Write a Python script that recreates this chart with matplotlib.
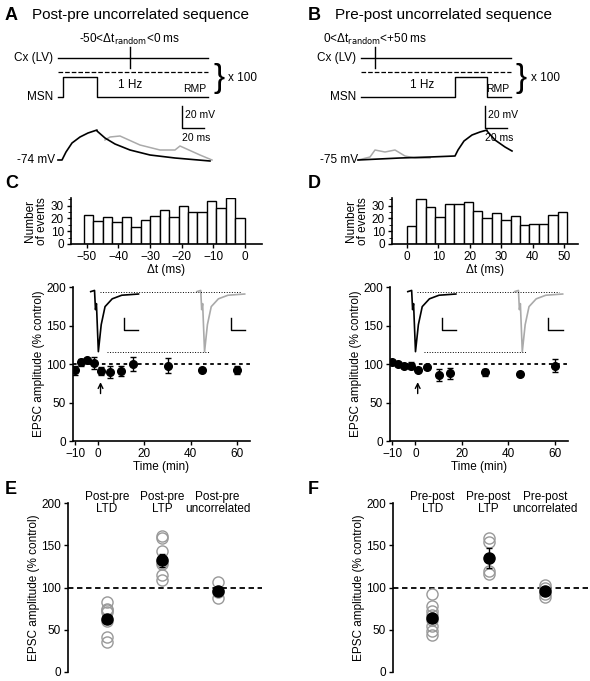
import numpy as np
import matplotlib.pyplot as plt

W, H = 590, 681

# ---------------- data ----------------
hist_c_left = np.arange(-51, 0, 3)
hist_c_counts = [23, 18, 21, 17, 21, 13, 19, 22, 27, 21, 30, 25, 25, 34, 28, 36, 20]
hist_d_left = np.arange(0, 51, 3)
hist_d_counts = [14, 35, 29, 21, 31, 31, 33, 26, 20, 24, 19, 22, 15, 16, 16, 23, 25]

time_c = [-10, -7.5, -5, -2, 1, 5, 10, 15, 30, 45, 60]
epsc_c = [92, 102, 105, 101, 91, 90, 91, 100, 98, 92, 92]
err_c = [6, 5, 2, 8, 5, 8, 7, 9, 10, 2, 5]
time_d = [-10, -7.5, -5, -2, 1, 5, 10, 15, 30, 45, 60]
epsc_d = [103, 100, 97, 98, 92, 96, 86, 88, 89, 87, 98]
err_d = [2, 1, 2, 4, 3, 2, 8, 7, 4, 3, 9]

cats_e = ["Post-pre\nLTD", "Post-pre\nLTP", "Post-pre\nuncorrelated"]
cells_e = [[83, 75, 73, 71, 60, 42, 36], [161, 158, 143, 130, 128, 115, 109], [106, 95, 88]]
mean_e = [63, 132, 96]
sem_e = [5, 8, 4]
cats_f = ["Pre-post\nLTD", "Pre-post\nLTP", "Pre-post\nuncorrelated"]
cells_f = [[92, 78, 72, 68, 62, 55, 48, 44], [159, 154, 120, 116], [103, 99, 92, 89]]
mean_f = [64, 135, 96]
sem_f = [5, 12, 3]

# voltage traces for A/B (pixel points, rough)
trace_a_x = [58, 62, 66, 72, 80, 88, 97, 97, 105, 115, 130, 150, 175, 210]
trace_a_y = [160, 160, 152, 143, 137, 133, 130, 131, 138, 144, 150, 155, 158, 161]
gray_a_x = [105, 110, 120, 140, 160, 175, 180, 200, 212]
gray_a_y = [140, 137, 136, 145, 150, 150, 146, 155, 160]
trace_b_x = [358, 400, 430, 455, 458, 464, 472, 480, 487, 487, 495, 505, 512]
trace_b_y = [160, 158, 157, 156, 150, 141, 135, 132, 130, 131, 140, 147, 151]
gray_b_x = [358, 370, 375, 385, 395, 405, 415, 430]
gray_b_y = [160, 157, 150, 152, 150, 156, 158, 158]
# inset EPSC trace (relative units: x 0..1, y 0 baseline, -1 peak)
epsc_x = [0, 0.08, 0.1, 0.12, 0.16, 0.22, 0.3, 0.45, 0.65, 1.0]
epsc_y = [0, 0.02, -0.3, -0.2, -1.0, -0.55, -0.25, -0.12, -0.06, -0.04]

plt.rcParams['font.family'] = ['Liberation Sans', 'DejaVu Sans']
plt.rcParams['font.size'] = 8.5

fig = plt.figure(figsize=(W / 100, H / 100), dpi=100)


def pos(l, t, r, b):
    return [l / W, 1 - b / H, (r - l) / W, (b - t) / H]


def style(ax):
    ax.spines['top'].set_visible(False)
    ax.spines['right'].set_visible(False)
    ax.tick_params(length=3, width=1, pad=2)
    for s in ('left', 'bottom'):
        ax.spines[s].set_linewidth(1.2)


# ---------------- overlay for schematics ----------------
ov = fig.add_axes([0, 0, 1, 1])
ov.set_xlim(0, W)
ov.set_ylim(H, 0)
ov.axis('off')

for dx, letter, title, lab, tick_x, pulse, hz_x, mv, tx, ty, gx, gy in [
        (0, 'A', 'Post-pre uncorrelated sequence', '-50<Δt$_{\\rm random}$<0 ms', 130, (63, 97), 130, '-74 mV',
         trace_a_x, trace_a_y, gray_a_x, gray_a_y),
        (303, 'B', 'Pre-post uncorrelated sequence', '0<Δt$_{\\rm random}$<+50 ms', 375, (455, 487), 422, '-75 mV',
         trace_b_x, trace_b_y, gray_b_x, gray_b_y)]:
    ov.text(5 + dx, 15, letter, fontsize=13, fontweight='bold', va='center')
    ov.text(32 + dx, 15, title, fontsize=11, va='center')
    x0, x1 = 58 + dx, 208 + dx
    ov.plot([x0, x1], [58, 58], 'k', lw=1)
    ov.plot([tick_x, tick_x], [47, 68], 'k', lw=1)
    ov.text(tick_x, 43, lab, ha='center', fontsize=8.5)
    ov.text(x0 - 5, 58, 'Cx (LV)', ha='right', va='center', fontsize=8.5)
    ov.plot([x0, x1], [72, 72], 'k--', lw=0.9)
    p0, p1 = pulse
    ov.plot([x0, p0, p0, p1, p1, x1], [97, 97, 77, 77, 97, 97], 'k', lw=1)
    ov.text(x0 - 5, 97, 'MSN', ha='right', va='center', fontsize=8.5)
    ov.text(hz_x, 88, '1 Hz', ha='center', fontsize=8.5)
    ov.text(206 + dx, 92, 'RMP', ha='right', fontsize=7.5)
    ov.text(213 + dx, 78, '}', fontsize=24, va='center', ha='left', fontweight='light')
    ov.text(228 + dx, 78, 'x 100', fontsize=8.5, va='center')
    sb = 182 + dx
    ov.plot([sb, sb, sb + 22], [106, 128, 128], 'k', lw=1)
    ov.text(sb + 3, 115, '20 mV', fontsize=7.5, va='center')
    ov.text(sb, 138, '20 ms', fontsize=7.5, va='center')
    ov.plot(gx, gy, color='#aaaaaa', lw=1.1, zorder=1)
    ov.plot(tx, ty, 'k', lw=1.2, zorder=2)
    ov.text(x0 - 3, 160, mv, ha='right', va='center', fontsize=8.5)

# ---------------- histograms ----------------
for rect, lefts, counts, ticks, xlim, letter, lx in [
        (pos(71, 198, 262, 244), hist_c_left, hist_c_counts, range(-50, 1, 10), (-55, 5.4), 'C', 5),
        (pos(392, 198, 578, 244), hist_d_left, hist_d_counts, range(0, 51, 10), (-4.8, 54.5), 'D', 308)]:
    ax = fig.add_axes(rect)
    ax.bar(lefts, counts, width=3, align='edge', color='white', edgecolor='k', lw=1)
    ax.set_xlim(*xlim)
    ax.set_ylim(0, 36)
    ax.set_yticks([0, 10, 20, 30])
    ax.set_yticks([5, 15, 25, 35], minor=True)
    ax.set_xticks(list(ticks))
    ax.set_xlabel('Δt (ms)', labelpad=1)
    ax.set_ylabel('Number\nof events', labelpad=2, linespacing=0.95)
    style(ax)
    fig.text(lx / W, 1 - 183 / H, letter, fontsize=13, fontweight='bold', va='center')

# ---------------- time courses ----------------
for rect, t, v, e in [(pos(73, 287, 250, 441), time_c, epsc_c, err_c),
                      (pos(390, 287, 568, 441), time_d, epsc_d, err_d)]:
    ax = fig.add_axes(rect)
    ax.errorbar(t, v, yerr=e, fmt='o', color='k', ms=5.5, capsize=2.5, elinewidth=1)
    ax.axhline(100, color='k', ls=(0, (2, 2)), lw=1.3, zorder=0)
    ax.set_xlim(-10.9, 65.6)
    ax.set_ylim(0, 200)
    ax.set_yticks([0, 50, 100, 150, 200])
    ax.set_xticks([-10, 0, 20, 40, 60])
    ax.set_xlabel('Time (min)', labelpad=1)
    ax.set_ylabel('EPSC amplitude (% control)', labelpad=1)
    ax.annotate('', xy=(1, 80), xytext=(1, 58), arrowprops=dict(arrowstyle='->', color='k', lw=1))
    style(ax)
    # inset traces in axes fraction
    tr = ax.transAxes
    ex = np.array(epsc_x)
    ey = np.array(epsc_y)
    ax.plot(0.1 + ex * 0.27, 0.97 + ey * 0.39, color='k', lw=1.2, transform=tr)
    ax.plot(0.7 + ex * 0.27, 0.97 + ey * 0.39, color='#aaaaaa', lw=1.2, transform=tr)
    ax.plot([0.15, 0.95], [0.97, 0.97], 'k:', lw=0.7, transform=tr)
    ax.plot([0.19, 0.77], [0.58, 0.58], 'k:', lw=0.7, transform=tr)
    for sx in (0.29, 0.89):
        ax.plot([sx, sx, sx + 0.08], [0.8, 0.72, 0.72], 'k', lw=1, transform=tr)

# ---------------- summary scatter ----------------
for rect, cats, cells, means, sems, letter, lx in [
        (pos(68, 503, 262, 672), cats_e, cells_e, mean_e, sem_e, 'E', 5),
        (pos(393, 503, 590, 672), cats_f, cells_f, mean_f, sem_f, 'F', 308)]:
    ax = fig.add_axes(rect)
    xs = [1, 2, 3]
    for x, c in zip(xs, cells):
        ax.plot([x] * len(c), c, 'o', mfc='none', mec='#999999', ms=8, mew=1)
    ax.errorbar(xs, means, yerr=sems, fmt='o', color='k', ms=8, capsize=2.5, elinewidth=1, zorder=3)
    ax.axhline(100, color='k', ls=(0, (3, 2)), lw=1.3, zorder=0)
    for x, c in zip(xs, cats):
        ax.text(x, 200, c, ha='center', va='center', fontsize=8.5, linespacing=1.0)
    ax.set_xlim(0.3, 3.8)
    ax.set_ylim(0, 200)
    ax.set_yticks([0, 50, 100, 150, 200])
    ax.set_xticks([])
    ax.spines['bottom'].set_visible(False)
    ax.set_ylabel('EPSC amplitude (% control)', labelpad=1)
    style(ax)
    fig.text(lx / W, 1 - 490 / H, letter, fontsize=13, fontweight='bold', va='center')

fig.savefig('out.png', dpi=100)
